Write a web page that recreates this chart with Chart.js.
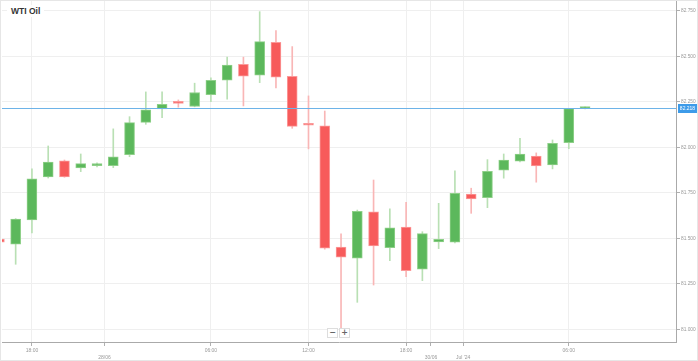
<!DOCTYPE html>
<html><head><meta charset="utf-8">
<script src="https://cdn.jsdelivr.net/npm/chart.js@4.4.1/dist/chart.umd.min.js"></script>
<style>
html,body{margin:0;padding:0;background:#fff;}
#wrap{position:relative;width:698px;height:361px;overflow:hidden;}
#frame{position:absolute;left:0;top:0;width:696px;height:359px;border:1px solid #e6e6e6;pointer-events:none;}
#title{position:absolute;left:7px;top:5px;padding:1px 4px;background:#fff;font:bold 8.5px "Liberation Sans",Arial,sans-serif;color:#333;line-height:10px;}
.zb{position:absolute;top:328px;width:9px;height:8px;border:1px solid #ddd;background:#fff;font:bold 8px/8px "DejaVu Sans",sans-serif;color:#666;text-align:center;}
</style></head><body>
<div id="wrap"><canvas id="c" width="698" height="361"></canvas><div id="frame"></div><div id="title">WTI Oil</div>
<div class="zb" style="left:327px">−</div><div class="zb" style="left:339px">+</div></div>
<script>
// hourly candles (index = slot on the x axis)
const openP  = [81.496,81.467,81.601,81.837,81.926,81.886,81.899,81.899,81.959,82.137,82.210,82.245,82.224,82.289,82.368,82.456,82.396,82.577,82.390,82.124,82.117,81.451,81.390,81.645,81.448,81.562,81.330,81.480,81.478,81.743,81.723,81.874,81.923,81.952,81.903,82.025,82.212];
const highP  = [81.500,81.608,81.881,82.007,81.930,81.963,81.915,82.101,82.168,82.304,82.304,82.260,82.352,82.381,82.495,82.495,82.745,82.641,82.553,82.282,82.199,81.524,81.655,81.820,81.661,81.698,81.536,81.692,81.870,81.775,81.932,81.963,82.049,81.969,82.040,82.214,82.222];
const lowP   = [81.475,81.357,81.529,81.831,81.835,81.866,81.892,81.888,81.948,82.126,82.163,82.220,82.222,82.251,82.264,82.227,82.355,82.326,82.104,81.991,81.440,81.005,81.148,81.243,81.377,81.289,81.267,81.443,81.475,81.637,81.668,81.830,81.919,81.808,81.881,81.992,82.210];
const closeP = [81.478,81.606,81.827,81.919,81.837,81.910,81.910,81.948,82.135,82.205,82.236,82.241,82.301,82.368,82.451,82.390,82.580,82.385,82.115,82.121,81.445,81.396,81.648,81.458,81.557,81.322,81.525,81.494,81.747,81.716,81.868,81.930,81.962,81.897,82.022,82.212,82.218];
const lastPrice = 82.218;
const xTickPos = [2, 6.46, 13, 19, 25, 26.53, 28.5, 35];
const xTickLabels = ['18:00', ['', '28/06'], '06:00', '12:00', '18:00', ['', '30/06'], ['', "Jul '24"], '06:00'];
const yTicks = [81.0, 81.25, 81.5, 81.75, 82.0, 82.25, 82.5, 82.75];

const up = openP.map((o,i)=>closeP[i] >= o);
const GREEN='#5cb85c', GREEN_B='#8fd089', GREEN_W='#b9e0b4';
const RED='#f75b5b', RED_B='#fb9a9a', RED_W='#f9b6b6';

const priceLine = {
  id:'priceLine',
  afterDatasetsDraw(chart){
    const ctx = chart.ctx, a = chart.chartArea;
    const y = Math.round(chart.scales.y.getPixelForValue(lastPrice)) + 0.5;
    ctx.save();
    ctx.strokeStyle = '#6db3e8'; ctx.lineWidth = 1;
    ctx.beginPath(); ctx.moveTo(a.left, y); ctx.lineTo(a.right, y); ctx.stroke();
    ctx.restore();
  },
  afterDraw(chart){
    const ctx = chart.ctx, y = Math.round(chart.scales.y.getPixelForValue(lastPrice));
    ctx.save();
    ctx.fillStyle = '#3d9be9';
    ctx.fillRect(678, y-4, 19, 9);
    ctx.fillStyle = '#fff';
    ctx.font = '5px "Liberation Sans", Arial, sans-serif';
    ctx.textAlign = 'center'; ctx.textBaseline = 'middle';
    ctx.fillText(lastPrice.toFixed(3), 687.5, y+0.5);
    ctx.restore();
  }
};

new Chart(document.getElementById('c'), {
  type:'bar',
  data:{datasets:[
    {label:'wick', data: lowP.map((l,i)=>({x:i, y:[l, highP[i]]})),
     backgroundColor: up.map(u=>u?GREEN_W:RED_W), barThickness:1, grouped:false, order:3},
    {label:'body', data: openP.map((o,i)=>({x:i, y:[o, closeP[i]]})),
     backgroundColor: up.map(u=>u?GREEN:RED), borderColor: up.map(u=>u?GREEN_B:RED_B),
     borderWidth:1, borderSkipped:false, barThickness:10, minBarLength:2, grouped:false, order:2}
  ]},
  options:{
    responsive:false, animation:false, devicePixelRatio:1,
    layout:{padding:{left:2,top:0,right:0,bottom:0}},
    plugins:{legend:{display:false}, tooltip:{enabled:false}},
    scales:{
      x:{type:'linear', min:0.16, max:41.59, offset:false, position:'bottom',
         grid:{color:'#efefef', tickColor:'#b0b0b0', tickLength:4, offset:false},
         border:{color:'#aaa'},
         afterBuildTicks:s=>{s.ticks = xTickPos.map(v=>({value:v}));},
         afterFit:s=>{s.height=19; s.paddingLeft=0; s.paddingRight=0;},
         ticks:{autoSkip:false, maxRotation:0, padding:1, color:'#999',
           font:{size:5, family:'"Liberation Sans", Arial, sans-serif', lineHeight:1.4},
           callback:(v,i)=>xTickLabels[i]}},
      y:{type:'linear', position:'right', min:80.930, max:82.809,
         grid:{color:'#efefef', tickColor:'#b0b0b0', tickLength:4},
         border:{color:'#aaa'},
         afterBuildTicks:s=>{s.ticks = yTicks.map(v=>({value:v}));},
         afterFit:s=>{s.width=22; s.paddingTop=0; s.paddingBottom=0;},
         ticks:{padding:1, color:'#999',
           font:{size:4.8, family:'"Liberation Sans", Arial, sans-serif'},
           callback:v=>v.toFixed(3)}}
    }
  },
  plugins:[priceLine]
});
</script>
</body></html>
